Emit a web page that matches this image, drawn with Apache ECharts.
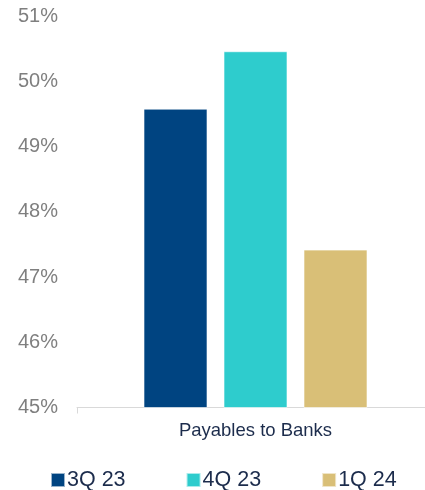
<!DOCTYPE html>
<html>
<head>
<meta charset="utf-8">
<script src="https://cdn.jsdelivr.net/npm/echarts@6/dist/echarts.min.js"></script>
<style>
  html, body { margin: 0; padding: 0; background: #fff; }
  #chart { width: 425px; height: 490px; }
</style>
</head>
<body>
<div id="chart"></div>
<script>
const categories = ['Payables to Banks']
const seriesNames = ['3Q 23', '4Q 23', '1Q 24']
const q3_23 = [49.58]
const q4_23 = [50.46]
const q1_24 = [47.42]
const colors = ['#004481', '#2ecccd', '#d9bf77']

const seriesValues = [q3_23, q4_23, q1_24]
const chart = echarts.init(document.getElementById('chart'))

chart.setOption({
  animation: false,
  textStyle: { fontFamily: 'Liberation Sans, Arial, sans-serif' },
  legend: {
    left: 50,
    top: 469,
    padding: 0,
    itemWidth: 14,
    itemHeight: 14,
    itemGap: 60,
    icon: 'rect',
    textStyle: {
      fontSize: 21.5,
      color: '#1c2c4c',
      padding: [0, 0, 0, -3]
    },
    data: seriesNames
  },
  grid: {
    left: 77,
    top: 16,
    right: -9,
    bottom: 82.5,
    outerBoundsMode: 'none'
  },
  xAxis: {
    type: 'category',
    data: categories,
    axisLine: { lineStyle: { color: '#d9d9d9' } },
    axisTick: { show: true, length: 6, lineStyle: { color: '#d9d9d9' } },
    axisLabel: { fontSize: 18.5, color: '#1c2c4c', margin: 14 }
  },
  yAxis: {
    type: 'value',
    min: 45,
    max: 51,
    interval: 1,
    splitLine: { show: false },
    axisLine: { show: false },
    axisTick: { show: false },
    axisLabel: {
      fontSize: 20,
      color: '#7f7f7f',
      margin: 19,
      formatter: v => v + '%'
    }
  },
  series: seriesValues.map((vals, i) => ({
    name: seriesNames[i],
    type: 'bar',
    data: vals,
    barWidth: 64,
    barGap: '25%',
    itemStyle: {
      color: colors[i],
      borderColor: 'rgba(255,255,255,0.6)',
      borderWidth: 1
    }
  }))
})
</script>
</body>
</html>
